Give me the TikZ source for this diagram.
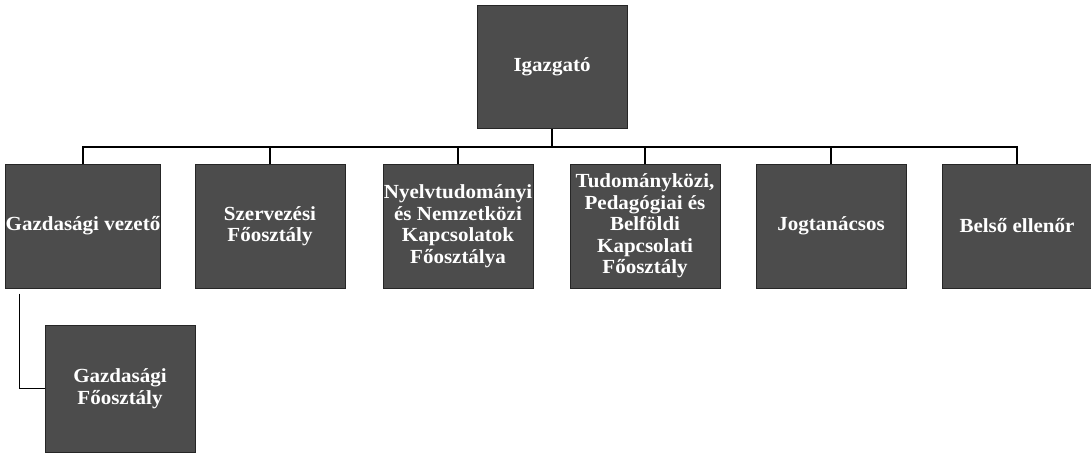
\documentclass[tikz,border=0pt]{standalone}
\usepackage{fontspec}
\setmainfont[FakeStretch=1.05]{Liberation Serif}
\begin{document}
\begin{tikzpicture}[x=1pt,y=-1pt,
  unit/.style={draw=black!85,line width=1pt,fill=black!70,text=white,
    minimum width=150pt,minimum height=124pt,inner sep=0pt,align=center,
    font=\fontsize{20}{21.5}\selectfont\bfseries},
  conn/.style={draw=black,line width=1.4pt}]
\useasboundingbox (0,0) rectangle (1091,452);
\node[unit,minimum height=122pt] (top) at (552,67) {Igazgató};
\node[unit] (a) at (83,226) {Gazdasági vezető};
\node[unit] (b) at (270,226) {Szervezési\\Főosztály};
\node[unit] (c) at (458,226) {Nyelvtudományi\\és Nemzetközi\\Kapcsolatok\\Főosztálya};
\node[unit] (d) at (645,226) {Tudományközi,\\Pedagógiai és\\Belföldi\\Kapcsolati\\Főosztály};
\node[unit] (e) at (831,226) {Jogtanácsos};
\node[unit] (f) at (1017,226) {Belső ellenőr};
\node[unit,minimum height=127pt] (g) at (120,388.5) {Gazdasági\\Főosztály};
\coordinate (bus) at (552,147);
\draw[conn] (top.south) -- (bus);
\draw[conn] (a.north) |- (bus) -| (f.north);
\foreach \n in {b,c,d,e}{\draw[conn] (\n.north) -- (\n.north |- bus);}
\draw[conn] (a.south west) ++(14,5) |- (g.west);
\end{tikzpicture}
\end{document}
